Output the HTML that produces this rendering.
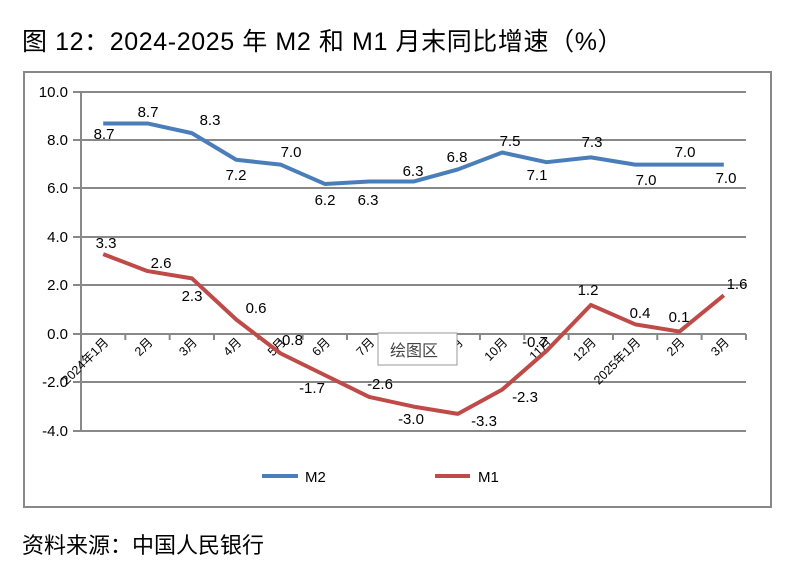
<!DOCTYPE html><html><head><meta charset="utf-8"><style>body{margin:0;background:#fff}text{font-family:"Liberation Sans","Noto Sans CJK SC",sans-serif}</style></head><body>
<svg width="807" height="576" xmlns="http://www.w3.org/2000/svg">
<text x="22" y="50" font-size="25" letter-spacing="0.6" fill="#000">图 12：2024-2025 年 M2 和 M1 月末同比增速（%）</text>
<rect x="24" y="72" width="747" height="435" fill="#fff" stroke="#888" stroke-width="2"/>
<g stroke="#888" stroke-width="2">
<line x1="73" y1="92" x2="746" y2="92"/><line x1="73" y1="140" x2="746" y2="140"/><line x1="73" y1="188" x2="746" y2="188"/><line x1="73" y1="237" x2="746" y2="237"/><line x1="73" y1="285" x2="746" y2="285"/><line x1="73" y1="334" x2="746" y2="334"/><line x1="73" y1="382" x2="746" y2="382"/><line x1="73" y1="431" x2="746" y2="431"/>
<line x1="81" y1="92" x2="81" y2="431"/>
</g>
<g stroke="#888" stroke-width="2" id="ticks"></g>
<g font-size="15" text-anchor="end" fill="#000">
<text x="68" y="97">10.0</text><text x="68" y="145">8.0</text><text x="68" y="193">6.0</text><text x="68" y="242">4.0</text><text x="68" y="290">2.0</text><text x="68" y="339">0.0</text><text x="68" y="387">-2.0</text><text x="68" y="436">-4.0</text>
</g>
<g id="cats" font-size="12.5" text-anchor="end" fill="#000"></g>
<polyline id="m2" fill="none" stroke="#4a7ebb" stroke-width="4" stroke-linejoin="round"/>
<polyline id="m1" fill="none" stroke="#be4b48" stroke-width="4" stroke-linejoin="round"/>
<g font-size="15" text-anchor="middle" fill="#000">
<text x="104" y="139">8.7</text><text x="148" y="117">8.7</text><text x="210" y="125">8.3</text><text x="236" y="180">7.2</text><text x="291" y="157">7.0</text><text x="325" y="205">6.2</text><text x="368" y="205">6.3</text><text x="413" y="176">6.3</text><text x="457" y="162">6.8</text><text x="510" y="146">7.5</text><text x="537" y="180">7.1</text><text x="592" y="147">7.3</text><text x="646" y="185">7.0</text><text x="685" y="157">7.0</text><text x="726" y="183">7.0</text>
<text x="106" y="248">3.3</text><text x="161" y="268">2.6</text><text x="192" y="301">2.3</text><text x="256" y="313">0.6</text><text x="290" y="345">-0.8</text><text x="312" y="393">-1.7</text><text x="380" y="389">-2.6</text><text x="411" y="424">-3.0</text><text x="484" y="426">-3.3</text><text x="525" y="402">-2.3</text><text x="535" y="347">-0.7</text><text x="588" y="295">1.2</text><text x="640" y="318">0.4</text><text x="679" y="322">0.1</text><text x="737" y="289">1.6</text>
</g>
<rect x="378" y="333" width="79" height="32" fill="#fff" stroke="#999"/>
<text x="390" y="356" font-size="16" fill="#444">绘图区</text>
<line x1="262" y1="476" x2="298" y2="476" stroke="#4a7ebb" stroke-width="4"/><text x="305" y="482" font-size="15">M2</text>
<line x1="435" y1="476" x2="470" y2="476" stroke="#be4b48" stroke-width="4"/><text x="478" y="482" font-size="15">M1</text>
<text x="22" y="553" font-size="22" fill="#000">资料来源：中国人民银行</text>
</svg>
<script>
var m2=[8.7,8.7,8.3,7.2,7.0,6.2,6.3,6.3,6.8,7.5,7.1,7.3,7.0,7.0,7.0],m1=[3.3,2.6,2.3,0.6,-0.8,-1.7,-2.6,-3.0,-3.3,-2.3,-0.7,1.2,0.4,0.1,1.6];
var cats=["2024年1月","2月","3月","4月","5月","6月","7月","8月","9月","10月","11月","12月","2025年1月","2月","3月"];
function X(i){return 103.2+44.33*i}function Y(v){return 334-v*24.2}
document.getElementById('m2').setAttribute('points',m2.map((v,i)=>X(i)+','+Y(v)).join(' '));
document.getElementById('m1').setAttribute('points',m1.map((v,i)=>X(i)+','+Y(v)).join(' '));
var t='',c='';for(var i=0;i<=15;i++){var x=81+44.33*i;t+='<line x1="'+x+'" y1="334" x2="'+x+'" y2="340"/>';}
for(i=0;i<15;i++){var x=X(i)+6,y=343;c+='<text x="'+x+'" y="'+y+'" transform="rotate(-45 '+x+' '+y+')">'+cats[i]+'</text>';}
document.getElementById('ticks').innerHTML=t;document.getElementById('cats').innerHTML=c;
</script>
</body></html>
